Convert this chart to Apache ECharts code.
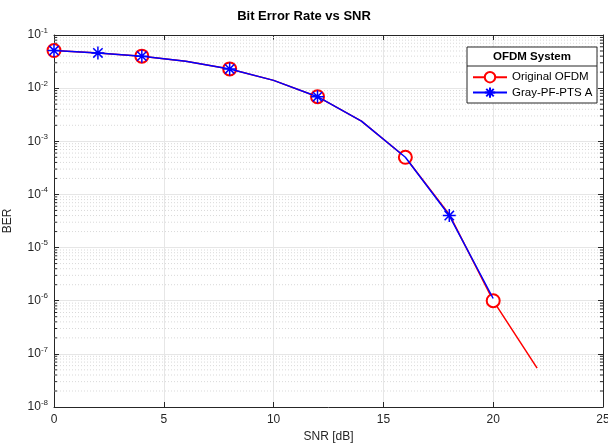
<!DOCTYPE html>
<html><head><meta charset="utf-8">
<script src="https://cdn.jsdelivr.net/npm/echarts@6/dist/echarts.min.js"></script>
<style>html,body{margin:0;padding:0;background:#fff}#c{width:608px;height:448px}</style>
</head><body><div id="c"></div>
<script>
const snr = [0, 2, 4, 6, 8, 10, 12, 14, 16, 18, 20, 22];
const berOriginal = [0.051, 0.046, 0.040, 0.032, 0.023, 0.014, 0.0069, 0.0024, 0.00050, 0.000042, 0.0000010, 0.000000054];
const berGray = [0.051, 0.046, 0.040, 0.032, 0.023, 0.014, 0.0069, 0.0024, 0.00050, 0.000040, 0.0000011];
const markOriginal = [0, 4, 8, 12, 16, 20];
const markGray = [0, 2, 4, 8, 12, 18];
const decades = [-8, -7, -6, -5, -4, -3, -2, -1];
const xRange = [0, 25];

const FONT = 'Liberation Sans';
const star = 'path://M-1,0L1,0M0,-1L0,1M-0.72,-0.72L0.72,0.72M-0.72,0.72L0.72,-0.72';

function build(xs, ys, marks) {
  return ys.map((y, i) => marks.includes(xs[i]) ? { value: [xs[i], y] } : { value: [xs[i], y], symbol: 'none' });
}
const minorVals = [];
decades.slice(0, -1).forEach(d => { for (let k = 2; k <= 9; k++) minorVals.push(k * Math.pow(10, d)); });
const gridData = [], tickData = [];
minorVals.forEach(v => {
  gridData.push([xRange[0], v], [xRange[1], v], [xRange[1], '-']);
  tickData.push([xRange[0], v], [xRange[0] + 0.14, v], [xRange[0], '-']);
  tickData.push([xRange[1] - 0.14, v], [xRange[1], v], [xRange[1], '-']);
});

const chart = echarts.init(document.getElementById('c'));
chart.setOption({
  animation: false,
  textStyle: { fontFamily: FONT },
  title: { text: 'Bit Error Rate vs SNR', left: 'center', top: 5, textStyle: { fontFamily: FONT, fontSize: 13, fontWeight: 'bold', color: '#000' } },
  grid: { left: 54, right: 5, top: 35, bottom: 41, outerBoundsMode: 'none', containLabel: false },
  xAxis: [{
    type: 'value', min: xRange[0], max: xRange[1], interval: 5,
    name: 'SNR [dB]', nameLocation: 'middle', nameGap: 23, nameTextStyle: { fontFamily: FONT, fontSize: 12, color: '#262626' },
    axisLine: { onZero: false, lineStyle: { color: '#262626', width: 1 } },
    axisTick: { inside: true, length: 5, lineStyle: { color: '#262626' } },
    axisLabel: { fontFamily: FONT, fontSize: 12, color: '#262626', margin: 7 },
    splitLine: { show: true, lineStyle: { color: '#e6e6e6', width: 1 } }
  }, {
    type: 'value', min: xRange[0], max: xRange[1], interval: 5, position: 'top',
    axisLine: { onZero: false, lineStyle: { color: '#262626', width: 1 } },
    axisTick: { inside: true, length: 5, lineStyle: { color: '#262626' } },
    axisLabel: { show: false }, splitLine: { show: false }
  }],
  yAxis: [{
    type: 'log', logBase: 10, min: 1e-8, max: 0.1,
    name: 'BER', nameLocation: 'middle', nameGap: 40, nameMoveOverlap: false, nameTextStyle: { fontFamily: FONT, fontSize: 12, color: '#262626' },
    axisLine: { onZero: false, lineStyle: { color: '#262626', width: 1 } },
    axisTick: { inside: true, length: 5, lineStyle: { color: '#262626' } },
    axisLabel: {
      fontFamily: FONT, fontSize: 12, color: '#262626', margin: 6,
      formatter: v => '10{s|' + Math.round(Math.log10(v)) + '}',
      rich: { s: { fontFamily: FONT, fontSize: 8, color: '#262626', verticalAlign: 'top', padding: [0, 0, 9, 0] } }
    },
    splitLine: { show: true, lineStyle: { color: '#e6e6e6', width: 1 } }
  }, {
    type: 'log', logBase: 10, min: 1e-8, max: 0.1, position: 'right',
    axisLine: { onZero: false, lineStyle: { color: '#262626', width: 1 } },
    axisTick: { inside: true, length: 5, lineStyle: { color: '#262626' } },
    axisLabel: { show: false }, splitLine: { show: false }
  }],
  legend: {
    orient: 'vertical', left: 472, top: 71, padding: 0, itemGap: 3, itemWidth: 34, itemHeight: 13, z: 100,
    textStyle: { fontFamily: FONT, fontSize: 11.5, color: '#000' },
    data: ['Original OFDM', 'Gray-PF-PTS A']
  },
  graphic: [
    { type: 'rect', shape: { x: 467, y: 47, width: 130, height: 56 }, style: { fill: '#fff', stroke: '#262626', lineWidth: 1 }, z: 50 },
    { type: 'line', shape: { x1: 467, y1: 66, x2: 597, y2: 66 }, style: { stroke: '#262626', lineWidth: 1 }, z: 51 },
    { type: 'text', style: { text: 'OFDM System', x: 532, y: 51, textAlign: 'center', font: 'bold 11.5px "Liberation Sans"', fill: '#000' }, z: 52 }
  ],
  series: [
    {
      name: 'minorGrid', type: 'line', silent: true, symbol: 'none', z: 1, connectNulls: false,
      data: gridData, lineStyle: { color: '#d9d9d9', type: [1, 2], width: 1 }
    },
    {
      name: 'minorTicks', type: 'line', silent: true, symbol: 'none', z: 2, connectNulls: false,
      data: tickData, lineStyle: { color: '#262626', width: 1 }
    },
    {
      name: 'Original OFDM', type: 'line', z: 3,
      data: build(snr, berOriginal, markOriginal),
      lineStyle: { color: '#ff0000', width: 1.5 },
      symbol: 'emptyCircle', symbolSize: 13, showSymbol: true,
      itemStyle: { color: '#ff0000', borderColor: '#ff0000', borderWidth: 1.5 }
    },
    {
      name: 'Gray-PF-PTS A', type: 'line', z: 4,
      data: build(snr, berGray, markGray),
      lineStyle: { color: '#0000ff', width: 1.5 },
      symbol: star, symbolSize: 13, showSymbol: true,
      itemStyle: { color: 'rgba(0,0,0,0)', borderColor: '#0000ff', borderWidth: 1.5 }
    }
  ]
});
</script></body></html>
